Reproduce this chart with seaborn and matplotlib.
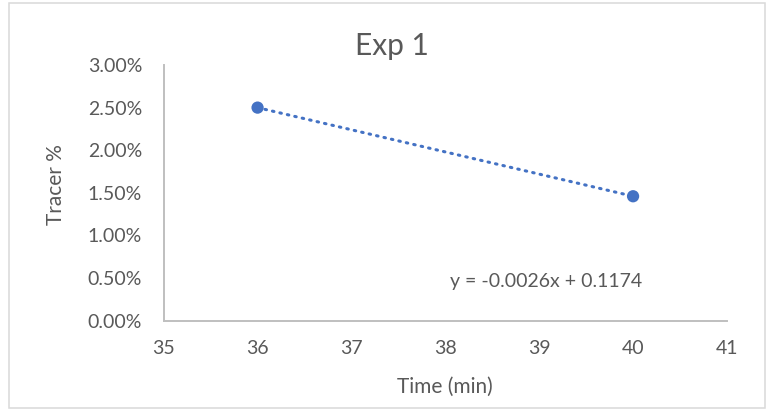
import matplotlib
matplotlib.use('Agg')
import matplotlib.pyplot as plt
from matplotlib.patches import Rectangle
from matplotlib.ticker import PercentFormatter
import pandas as pd
import seaborn as sns

# data
time_min = [36, 40]
tracer = [0.0250, 0.0146]
x_ticks = [35, 36, 37, 38, 39, 40, 41]
y_ticks = [0.0, 0.005, 0.01, 0.015, 0.02, 0.025, 0.03]
title = 'Exp 1'
x_label = 'Time (min)'
y_label = 'Tracer %'
equation = 'y = -0.0026x + 0.1174'

sns.set_style('white')
plt.rcParams['font.family'] = ['Lato', 'DejaVu Sans']

grey = '#595959'
blue = '#4472C4'
spine_grey = '#BFBFBF'

df = pd.DataFrame({'time': time_min, 'tracer': tracer})

fig = plt.figure(figsize=(7.66, 4.09), dpi=100)
ax = fig.add_axes([0.2137, 0.2159, 0.7353, 0.6252])

# linear trendline (dotted) + markers
sns.regplot(data=df, x='time', y='tracer', ax=ax, scatter=False, ci=None, truncate=True,
            line_kws=dict(color=blue, lw=2.2, ls=(0, (0.5, 2.0)), dash_capstyle='round', zorder=2))
sns.scatterplot(data=df, x='time', y='tracer', ax=ax, color=blue, s=78,
                edgecolor='none', zorder=3)

ax.set_xlim(x_ticks[0], x_ticks[-1])
ax.set_ylim(y_ticks[0], y_ticks[-1])
ax.set_xticks(x_ticks)
ax.set_yticks(y_ticks)
ax.yaxis.set_major_formatter(PercentFormatter(xmax=1, decimals=2))
ax.tick_params(length=0, labelsize=14, labelcolor=grey)
ax.tick_params(axis='y', pad=15.5)
ax.tick_params(axis='x', pad=14)
ax.set_xlabel('')
ax.set_ylabel('')

for side in ['top', 'right']:
    ax.spines[side].set_visible(False)
for side in ['left', 'bottom']:
    ax.spines[side].set_color(spine_grey)
    ax.spines[side].set_linewidth(1.4)

ax.text(38.05, 0.0040, equation, ha='left', va='baseline', fontsize=14, color=grey)

fig.text(392 / 766, 1 - 55 / 409, title, ha='center', va='baseline', fontsize=21.5, color=grey)
fig.text(445 / 766, 1 - 393.3 / 409, x_label, ha='center', va='baseline', fontsize=15, color=grey)
fig.text(61.7 / 766, 1 - 185 / 409, y_label, ha='center', va='baseline', rotation=90,
         rotation_mode='anchor', fontsize=15, color=grey)

# chart area border
fig.add_artist(Rectangle((8.5 / 766, 1 - 408 / 409), (765 - 8.5) / 766, (408 - 3.3) / 409,
                         transform=fig.transFigure, fill=False, ec='#D9D9D9', lw=1.1))

fig.savefig('out.png', dpi=100)
